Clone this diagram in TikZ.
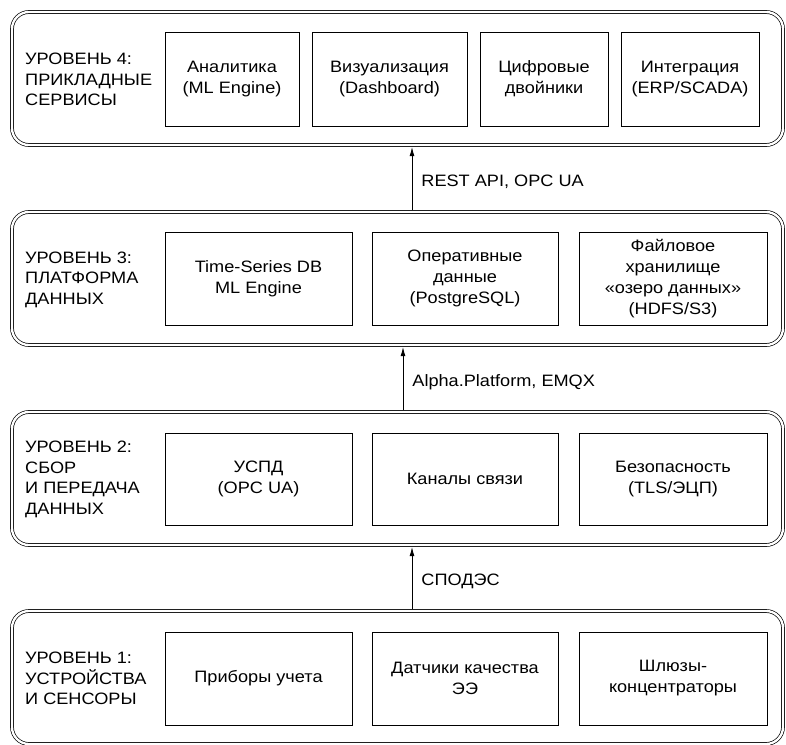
\documentclass[tikz,border=0pt]{standalone}
\usepackage{fontspec}
\setmainfont{Liberation Sans}[FakeStretch=1.1]
\usetikzlibrary{arrows.meta}

\newcommand{\txt}{\fontsize{16.5}{21}\selectfont}

\tikzset{
    layer/.style={draw, double, double distance=2.3pt, line width=0.7pt, rounded corners=17pt,
        minimum width=771pt, minimum height=133pt, inner sep=0pt},
    block/.style={draw, line width=0.8pt, align=center, inner sep=0pt, font=\txt},
    lvl/.style={anchor=west, align=left, inner sep=0pt, font=\fontsize{16.5}{20.5}\selectfont},
    flow/.style={line width=0.8pt, -{Latex[length=9pt,width=5pt]}, shorten <=1.8pt, shorten >=1.8pt},
    flowlbl/.style={anchor=west, inner sep=0pt, xshift=9pt, font=\txt}
}

\begin{document}
\begin{tikzpicture}[x=1pt, y=-1pt]
    \useasboundingbox (0,0) rectangle (786,744);

    % levels, top to bottom
    \foreach \n/\y/\t in {4/10/{УРОВЕНЬ 4:\\ПРИКЛАДНЫЕ\\СЕРВИСЫ},
                          3/210/{УРОВЕНЬ 3:\\ПЛАТФОРМА\\ДАННЫХ},
                          2/410/{УРОВЕНЬ 2:\\СБОР\\И ПЕРЕДАЧА\\ДАННЫХ},
                          1/609/{УРОВЕНЬ 1:\\УСТРОЙСТВА\\И СЕНСОРЫ}}
    {
        \node[layer] (L\n) at (397.5,\y+68.5) {};
        \node[lvl] (T\n) at (25,\y+69.5) {\t};
    }

    % level 4
    \node[block, minimum width=134pt, minimum height=94pt] (s1) at (232,79) {Аналитика\\(ML Engine)};
    \node[block, minimum width=155pt, minimum height=94pt] (s2) at (389.5,79) {Визуализация\\(Dashboard)};
    \node[block, minimum width=128pt, minimum height=94pt] (s3) at (544,79) {Цифровые\\двойники};
    \node[block, minimum width=138pt, minimum height=94pt] (s4) at (690,79) {Интеграция\\(ERP/SCADA)};

    % level 3
    \node[block, minimum width=187pt, minimum height=93pt] (p1) at (258.5,278.5) {Time-Series DB\\ML Engine};
    \node[block, minimum width=186pt, minimum height=93pt] (p2) at (465,278.5) {Оперативные\\данные\\(PostgreSQL)};
    \node[block, minimum width=188pt, minimum height=93pt] (p3) at (673,278.5) {Файловое\\хранилище\\«озеро данных»\\(HDFS/S3)};

    % level 2
    \node[block, minimum width=187pt, minimum height=92pt] (c1) at (258.5,479) {УСПД\\(OPC UA)};
    \node[block, minimum width=186pt, minimum height=92pt] (c2) at (465,479) {Каналы связи};
    \node[block, minimum width=188pt, minimum height=92pt] (c3) at (673,479) {Безопасность\\(TLS/ЭЦП)};

    % level 1
    \node[block, minimum width=187pt, minimum height=93pt] (d1) at (258.5,678.5) {Приборы учета};
    \node[block, minimum width=186pt, minimum height=93pt] (d2) at (465,678.5) {Датчики качества\\ЭЭ};
    \node[block, minimum width=188pt, minimum height=93pt] (d3) at (673,678.5) {Шлюзы-\\концентраторы};

    % links between levels
    \coordinate (a1) at (412,0);
    \coordinate (a2) at (403,0);
    \coordinate (a3) at (412,0);
    \draw[flow] (L3.north -| a1) -- (L4.south -| a1) node[flowlbl, pos=0.45] (f1) {REST API, OPC UA};
    \draw[flow] (L2.north -| a2) -- (L3.south -| a2) node[flowlbl, pos=0.45] (f2) {Alpha.Platform, EMQX};
    \draw[flow] (L1.north -| a3) -- (L2.south -| a3) node[flowlbl, pos=0.45] (f3) {СПОДЭС};
\end{tikzpicture}
\end{document}
